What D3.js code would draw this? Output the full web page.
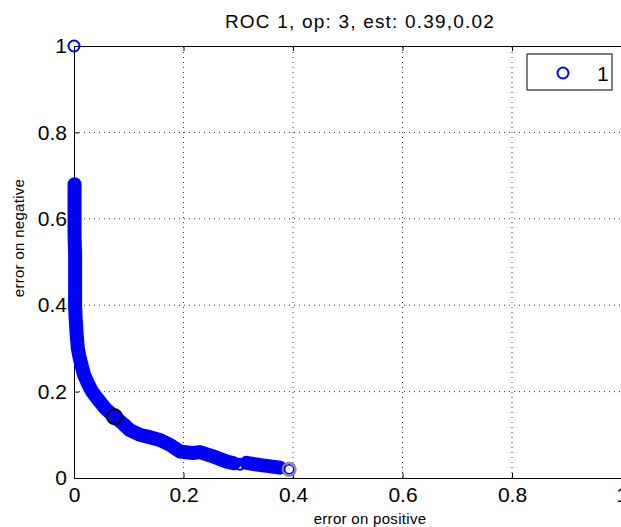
<!DOCTYPE html>
<html>
<head>
<meta charset="utf-8">
<script src="https://cdn.jsdelivr.net/npm/d3@7"></script>
<style>
    body { margin: 0; background: #fff; }
    svg { display: block; font-family: "Liberation Sans", Arial, Helvetica, sans-serif; }
</style>
</head>
<body>
<div id="chart"></div>
<script>
// curve: [error on positive, error on negative]
const curveMain = [
    [0.001, 0.68], [0.001, 0.64], [0.001, 0.60], [0.001, 0.56], [0.002, 0.52],
    [0.002, 0.48], [0.002, 0.44], [0.002, 0.40], [0.003, 0.37], [0.004, 0.35],
    [0.005, 0.33], [0.007, 0.30], [0.010, 0.28], [0.014, 0.26], [0.018, 0.24],
    [0.025, 0.22], [0.033, 0.20], [0.045, 0.18], [0.058, 0.16], [0.074, 0.142],
    [0.090, 0.125], [0.102, 0.111], [0.120, 0.100], [0.140, 0.094], [0.157, 0.088],
    [0.175, 0.077], [0.194, 0.061], [0.217, 0.058], [0.230, 0.060], [0.254, 0.050],
    [0.279, 0.038], [0.292, 0.034]
]
const curveTail = [[0.315, 0.035], [0.335, 0.031], [0.352, 0.028], [0.376, 0.024]]
const singlePoints = [[0.303, 0.032], [0, 1]]
const lastPoint = [0.393, 0.020]
const opPoint = [0.074, 0.142]

const xTicks = [0, 0.2, 0.4, 0.6, 0.8, 1]
const yTicks = [0, 0.2, 0.4, 0.6, 0.8, 1]
const gridTicks = [0.2, 0.4, 0.6, 0.8]
const titleText = 'ROC 1, op: 3, est: 0.39,0.02'
const legendLabels = ['1']

const width = 621
const height = 527
const blue = '#0000ff'

const svg = d3.select('#chart')
    .append('svg')
    .attr('width', width)
    .attr('height', height)

const x = d3.scaleLinear().domain([0, 1]).range([74, 621.5])
const y = d3.scaleLinear().domain([0, 1]).range([478, 46])

// dotted grid
svg.append('g')
    .selectAll('line')
    .data(gridTicks)
    .enter()
    .append('line')
    .attr('x1', (d) => x(d))
    .attr('x2', (d) => x(d))
    .attr('y1', y(0))
    .attr('y2', y(1))
    .attr('stroke', '#333')
    .attr('stroke-dasharray', '1,4')
svg.append('g')
    .selectAll('line')
    .data(gridTicks)
    .enter()
    .append('line')
    .attr('x1', x(0))
    .attr('x2', x(1))
    .attr('y1', (d) => y(d))
    .attr('y2', (d) => y(d))
    .attr('stroke', '#333')
    .attr('stroke-dasharray', '1,4')

// axes box
const fmt = (d) => String(d)
const styleAxis = (g) => {
    g.select('.domain').attr('stroke', '#000')
    g.selectAll('.tick line').attr('stroke', '#000')
    g.selectAll('.tick text').attr('fill', '#000').style('font-size', '21px')
}
svg.append('g')
    .attr('transform', `translate(0, ${y(0)})`)
    .call(d3.axisBottom(x).tickValues(xTicks).tickFormat(fmt).tickSize(-5).tickSizeOuter(0).tickPadding(9))
    .call(styleAxis)
svg.append('g')
    .attr('transform', `translate(${x(0)}, 0)`)
    .call(d3.axisLeft(y).tickValues(yTicks).tickFormat(fmt).tickSize(-5).tickSizeOuter(0).tickPadding(7))
    .call(styleAxis)
svg.append('g')
    .attr('transform', `translate(0, ${y(1)})`)
    .call(d3.axisTop(x).tickValues(xTicks).tickFormat('').tickSize(-5).tickSizeOuter(0))
    .call(styleAxis)

// ROC curve (dense circle markers shown as a thick band)
const line = d3.line().x((d) => x(d[0])).y((d) => y(d[1]))
svg.append('path')
    .datum(curveMain)
    .attr('d', line)
    .attr('fill', 'none')
    .attr('stroke', blue)
    .attr('stroke-width', 14)
    .attr('stroke-linecap', 'round')
    .attr('stroke-linejoin', 'round')

svg.append('g')
    .selectAll('circle')
    .data(singlePoints)
    .enter()
    .append('circle')
    .attr('cx', (d) => x(d[0]))
    .attr('cy', (d) => y(d[1]))
    .attr('r', 5.5)
    .attr('fill', 'none')
    .attr('stroke', blue)
    .attr('stroke-width', 2)

svg.append('path')
    .datum(curveTail)
    .attr('d', line)
    .attr('fill', 'none')
    .attr('stroke', blue)
    .attr('stroke-width', 14)
    .attr('stroke-linecap', 'round')
    .attr('stroke-linejoin', 'round')

svg.append('circle')
    .attr('cx', x(lastPoint[0]))
    .attr('cy', y(lastPoint[1]))
    .attr('r', 6.5)
    .attr('fill', 'none')
    .attr('stroke', '#8a8a8a')
    .attr('stroke-width', 2)
svg.append('circle')
    .attr('cx', x(lastPoint[0]))
    .attr('cy', y(lastPoint[1]))
    .attr('r', 4.5)
    .attr('fill', '#fff')
    .attr('stroke', blue)
    .attr('stroke-width', 1.5)

// operating point
svg.append('circle')
    .attr('cx', x(opPoint[0]))
    .attr('cy', y(opPoint[1]))
    .attr('r', 7.5)
    .attr('fill', 'none')
    .attr('stroke', '#000')
    .attr('stroke-width', 2)
svg.append('circle')
    .attr('cx', x(opPoint[0]))
    .attr('cy', y(opPoint[1]))
    .attr('r', 0.8)
    .attr('fill', '#000')

// texts
svg.append('text')
    .attr('x', 360)
    .attr('y', 28)
    .attr('text-anchor', 'middle')
    .style('font-size', '19px')
    .style('letter-spacing', '1.2px')
    .text(titleText)
svg.append('text')
    .attr('x', 370)
    .attr('y', 524)
    .attr('text-anchor', 'middle')
    .style('font-size', '15px')
    .style('letter-spacing', '0.3px')
    .text('error on positive')
svg.append('text')
    .attr('transform', 'translate(24, 238) rotate(-90)')
    .attr('text-anchor', 'middle')
    .style('font-size', '15px')
    .style('letter-spacing', '0.3px')
    .text('error on negative')

// legend
const legend = svg.append('g').attr('transform', 'translate(527, 54)')
legend.append('rect')
    .attr('width', 85)
    .attr('height', 36)
    .attr('fill', '#fff')
    .attr('stroke', '#000')
const legendItem = legend.selectAll('g')
    .data(legendLabels)
    .enter()
    .append('g')
    .attr('transform', (d, i) => `translate(0, ${19 + i * 24})`)
legendItem.append('circle')
    .attr('cx', 36)
    .attr('r', 5.5)
    .attr('fill', 'none')
    .attr('stroke', blue)
    .attr('stroke-width', 2)
legendItem.append('text')
    .attr('x', 70)
    .attr('y', 8)
    .style('font-size', '21px')
    .text((d) => d)
</script>
</body>
</html>
